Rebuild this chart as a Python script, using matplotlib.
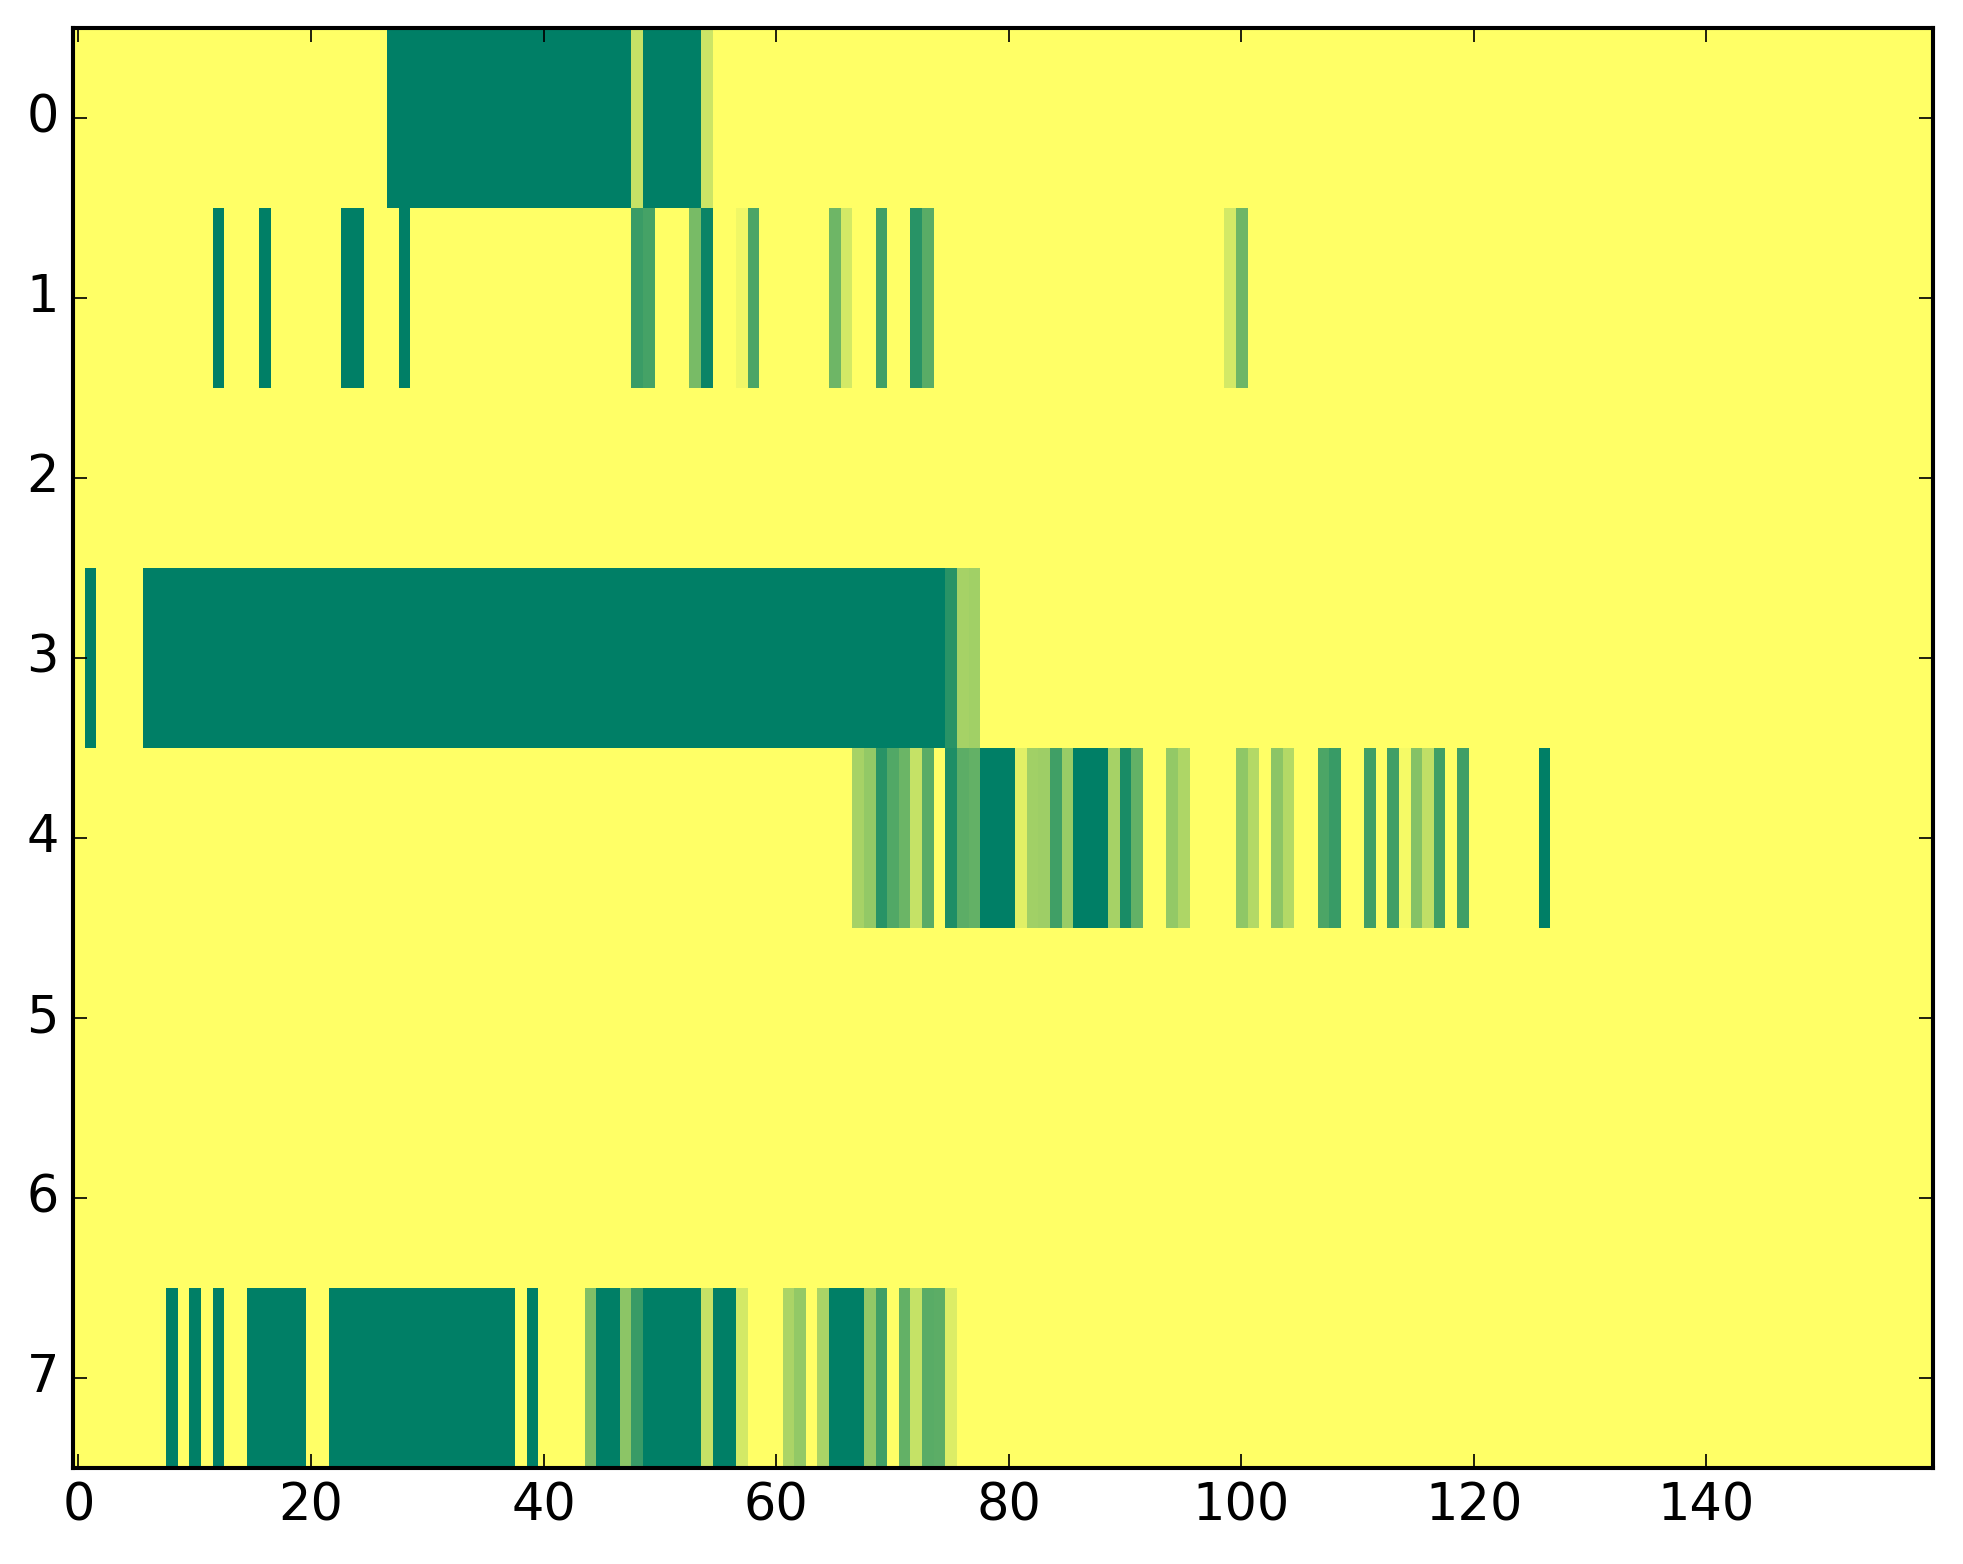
import numpy as np
import matplotlib
matplotlib.use("Agg")
import matplotlib.pyplot as plt

plt.style.use("classic")

n_rows = 8
n_cols = 160

# each row: first column of the non-yellow stretch, then its values (1 = yellow)
row0_start = 27
row0_vals = [0] * 21 + [0.77] + [0] * 5 + [0.8]

row1_start = 12
row1_vals = ([0, 1, 1, 1, 0, 1, 1, 1, 1, 1, 1, 0, 0, 1, 1, 1, 0]
             + [1] * 19
             + [0.23, 0.27, 1, 1, 1, 0.47, 0.04, 1, 1, 0.94, 0.3,
                1, 1, 1, 1, 1, 1, 0.43, 0.83, 1, 1, 0.25, 1, 1, 0.16, 0.35]
             + [1] * 25
             + [0.83, 0.43])

row3_start = 1
row3_vals = [0, 1, 1, 1, 1] + [0] * 69 + [0.16, 0.65, 0.63]

row4_start = 67
row4_vals = [0.65, 0.58, 0.16, 0.32, 0.42, 0.77, 0.35, 1, 0.12, 0.36, 0.39,
             0, 0, 0, 0.88, 0.63, 0.62, 0.25, 0.6, 0, 0, 0, 0.65, 0.1, 0.39,
             1, 1, 0.58, 0.68, 1, 1, 1, 1, 0.56, 0.7, 1, 0.55, 0.7, 1, 1,
             0.3, 0.22, 1, 1, 0.25, 1, 0.25, 0.96, 0.52, 0.75, 0.25, 1, 0.25,
             1, 1, 1, 1, 1, 1, 0]

row7_start = 8
row7_vals = ([0, 1, 0, 1, 0, 1, 1, 0, 0, 0, 0, 0, 1, 1]
             + [0] * 16
             + [1, 0, 1, 1, 1, 1, 0.5, 0, 0, 0.55, 0.22, 0, 0, 0, 0, 0, 0.77,
                0, 0, 0.83, 1, 1, 1, 0.67, 0.58, 1, 0.67, 0, 0, 0, 0.58, 0.25,
                1, 0.39, 0.77, 0.35, 0.36, 0.86])

rows = {0: (row0_start, row0_vals), 1: (row1_start, row1_vals),
        3: (row3_start, row3_vals), 4: (row4_start, row4_vals),
        7: (row7_start, row7_vals)}

data = np.ones((n_rows, n_cols))
for r, (start, vals) in rows.items():
    data[r, start:start + len(vals)] = vals

fig = plt.figure(figsize=(1963 / 245, 1564 / 245), dpi=245)
ax = fig.add_axes([0.037, 0.0614, 0.9477, 0.9206])
ax.imshow(data, cmap="summer", vmin=0, vmax=1, aspect="auto",
          interpolation="nearest")
ax.set_xlim(-0.5, n_cols - 0.5)
ax.set_ylim(n_rows - 0.5, -0.5)
ax.set_xticks(np.arange(0, 141, 20))
ax.set_yticks(np.arange(0, 8))
ax.tick_params(labelsize=15)
for sp in ax.spines.values():
    sp.set_linewidth(1.2)

fig.savefig("out.png", dpi=245, facecolor="white")
